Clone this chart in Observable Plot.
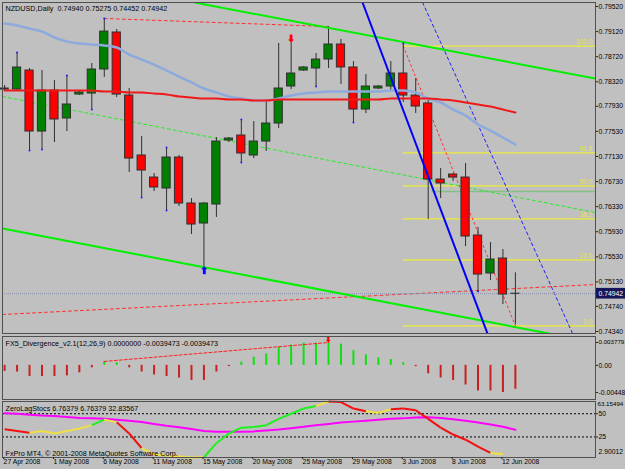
<!DOCTYPE html>
<html><head><meta charset="utf-8">
<script src="https://cdn.jsdelivr.net/npm/d3@7"></script>
<script src="https://cdn.jsdelivr.net/npm/@observablehq/plot@0.6"></script>
<style>
body{margin:0;background:#c0c0c0;}
#wrap{position:relative;width:625px;height:469px;background:#c0c0c0;overflow:hidden;font-family:"Liberation Sans",Arial,sans-serif;}
#wrap svg{position:absolute;left:0;overflow:visible;}
</style></head>
<body><div id="wrap"></div>
<script>
// ---------- DATA ----------
const symbolTitle = "NZDUSD,Daily  0.74940 0.75275 0.74452 0.74942";
const opens  = [0.78197,0.78197,0.78500,0.77527,0.78181,0.77735,0.78117,0.78133,0.78516,0.79106,0.78101,0.77145,0.76794,0.76619,0.77113,0.76380,0.76061,0.76364,0.77384,0.77464,0.77145,0.77368,0.77655,0.78245,0.78500,0.78532,0.78675,0.78914,0.78548,0.77878,0.78213,0.78245,0.78452,0.78101,0.77974,0.76762,0.76842,0.76794,0.75870,0.75264,0.75503,0.74940];
const highs  = [0.78261,0.78787,0.78532,0.78500,0.78340,0.78420,0.78165,0.78611,0.79329,0.79153,0.78213,0.77448,0.76858,0.77272,0.77145,0.76459,0.76396,0.77432,0.77432,0.77719,0.77687,0.78038,0.78930,0.78946,0.78564,0.78771,0.79201,0.78994,0.78643,0.78436,0.78261,0.78643,0.78930,0.78372,0.78022,0.76938,0.76858,0.77017,0.75997,0.75758,0.75647,0.75275];
const lows   = [0.78165,0.78181,0.77225,0.77241,0.77352,0.77527,0.78101,0.77878,0.78388,0.78069,0.76874,0.76475,0.76571,0.76268,0.76332,0.75886,0.75360,0.76157,0.77352,0.77033,0.77097,0.77209,0.77575,0.78197,0.78484,0.78245,0.78532,0.78277,0.77671,0.77814,0.78197,0.78165,0.77990,0.77814,0.76125,0.76459,0.76730,0.75694,0.74977,0.75152,0.74770,0.74452];
const closes = [0.78213,0.78548,0.77527,0.78181,0.77719,0.77958,0.78149,0.78516,0.79121,0.78117,0.77097,0.76906,0.76635,0.77113,0.76380,0.76045,0.76380,0.77368,0.77416,0.77177,0.77368,0.77655,0.78213,0.78452,0.78548,0.78675,0.78914,0.78548,0.77878,0.78245,0.78245,0.78452,0.78101,0.77926,0.76762,0.76699,0.76794,0.75854,0.75248,0.75487,0.74929,0.74942];
const maSlow = [0.79249,0.79217,0.79169,0.79121,0.79026,0.78962,0.78930,0.78914,0.78898,0.78866,0.78755,0.78675,0.78595,0.78500,0.78404,0.78309,0.78213,0.78149,0.78085,0.78054,0.78022,0.78022,0.78054,0.78101,0.78133,0.78149,0.78165,0.78165,0.78165,0.78165,0.78165,0.78181,0.78181,0.78149,0.78054,0.77990,0.77878,0.77782,0.77639,0.77543,0.77432,0.77320];
const maRed  = [0.78181,0.78181,0.78181,0.78181,0.78181,0.78181,0.78181,0.78181,0.78165,0.78165,0.78149,0.78149,0.78133,0.78117,0.78085,0.78069,0.78054,0.78054,0.78038,0.78038,0.78022,0.78022,0.78038,0.78038,0.78038,0.78038,0.78038,0.78038,0.78038,0.78038,0.78038,0.78054,0.78054,0.78054,0.78054,0.78038,0.78022,0.77990,0.77958,0.77926,0.77878,0.77830];
const priceTicks = [0.79520,0.79120,0.78720,0.78320,0.77930,0.77530,0.77130,0.76730,0.76330,0.75930,0.75530,0.75130,0.74740,0.74340];
const lastPrice = 0.74942;
// trend lines: [barIndex, price] anchor pairs
const greenUpper  = [[15.25,0.79584],[47.43,0.78372]];
const greenLower  = [[-0.17,0.75981],[47.43,0.74165]];
const greenMiddle = [[-0.17,0.78086],[47.43,0.76236]];
const blueSolid   = [[28.73,0.79584],[38.76,0.74308]];
const blueDashed  = [[33.55,0.79584],[45.59,0.74308]];
const redTop      = [[8,0.79329],[26,0.79201]];
const redLower    = [[-0.17,0.74611],[47.43,0.75089]];
const hLevelGreen = 0.76571, hLevelStart = 34.3;
const fibStartBar = 32, fibEndBar = 41;
const fibHigh = 0.78890, fibLow = 0.74430;
const fibLevels = [0, 23.6, 38.2, 50, 61.8, 100];
const fractals = [[1,0.78787],[2,0.77225],[3,0.77241],[5,0.78420],[7,0.77878],[8,0.79329],[11,0.76475],[13,0.77272],[13,0.76268],[19,0.77719],[19,0.77033],[25,0.78245],[28,0.77671],[32,0.78930],[38,0.74977]];
const arrowDown = [23, 0.79010];
const arrowUp   = [16, 0.75312];

const divTitle = "FX5_Divergence_v2.1(12,26,9) 0.0000000 -0.0039473 -0.0039473";
const divVals = [-0.00100,-0.00110,-0.00184,-0.00184,-0.00184,-0.00174,-0.00124,-0.00040,0.00065,0.00043,-0.00040,-0.00110,-0.00160,-0.00184,-0.00209,-0.00249,-0.00249,-0.00110,-0.00020,0.00054,0.00135,0.00189,0.00297,0.00335,0.00367,0.00367,0.003779,0.00351,0.00243,0.00173,0.00124,0.00097,0.00043,-0.00020,-0.00140,-0.00209,-0.00249,-0.00324,-0.00423,-0.00423,-0.00448,-0.00395];
const divLine = [[8,0.00065],[26,0.003779]];
const divMax = 0.003779, divMin = -0.00448;
const divDomain = [-0.00564, 0.00477];

const stochTitle = "ZeroLagStocs 6.76379 6.76379 32.83567";
const stochMain = [33.2,31.3,29.5,31.3,28.7,31.3,34.0,37.7,43.7,40.7,28.7,13.0,6.0,5.0,4.0,2.9,3.2,18.3,28.7,35.0,35.8,37.7,44.4,50.0,55.6,58.2,63.15,62.5,55.6,52.6,50.7,54.9,55.6,53.7,44.4,35.0,27.6,22.0,14.6,7.8,6.5,6.76];
// state of each segment i -> i+1 : u = rising (green), d = falling (red), f = flat (yellow)
const stochState = "ddfffffufddfffffuuuuuuuuufdddffddddddddf".split("");
const stochSignal = [50.5,50,49,48,47.5,46.5,45.5,45,44.5,43.5,42.5,41,39,37,35.5,33.5,31.5,30.5,30.5,30.5,31,32,33,34.5,36,37.5,39,40.5,41.5,42.5,43.5,44.5,45,46,46.3,45.5,44,42.5,40.5,38.5,36,32.84];
const stochMax = 63.15494, stochMin = 2.90012;
const stochLevels = [50, 25];
const footer = "FxPro MT4, © 2001-2008 MetaQuotes Software Corp.";
const dateTickBars = [0,4,8,12,16,20,24,28,32,36,40];
const dateLabels = ["27 Apr 2008","1 May 2008","6 May 2008","11 May 2008","15 May 2008","20 May 2008","25 May 2008","29 May 2008","3 Jun 2008","8 Jun 2008","12 Jun 2008"];

// ---------- CHART ----------
const FONT = "Liberation Sans, Arial, sans-serif";
const FS = 7.2;   // panel text
const AFS = 6.8;  // axis labels
const xDom = [-0.17, 47.43];
const common = {width:625, marginLeft:2, marginRight:30, style:{background:"transparent", fontFamily:FONT, fontSize:FS+"px", color:"#000", overflow:"visible"}};
const wrap = document.getElementById("wrap");
const place = (svg, top) => { svg.style.top = top + "px"; wrap.appendChild(svg); };

const candles = opens.map((o,i)=>({i, o, h:highs[i], l:lows[i], c:closes[i]}));
const lineData = (pts) => pts.map(([i,p])=>({i,p}));
const yellow = "#ecec3a";
const axisOpts = {anchor:"right", tickSize:2, tickPadding:1, fontSize:AFS, stroke:"#202020", label:null};

const main = Plot.plot({
  ...common, height:335, marginTop:2, marginBottom:2,
  x:{domain:xDom, axis:null, label:null},
  y:{domain:[0.74308,0.79584], axis:null, label:null},
  marks:[
    Plot.ruleY(fibLevels, {y:d=>fibLow+(fibHigh-fibLow)*d/100, x1:fibStartBar, x2:xDom[1], stroke:yellow, strokeWidth:1.2}),
    Plot.text(fibLevels, {y:d=>fibLow+(fibHigh-fibLow)*d/100, x:xDom[1], text:d=>d.toFixed(1), dx:-3, dy:-4, textAnchor:"end", fill:"#e6e63a", fontSize:6.6}),
    Plot.ruleY([hLevelGreen], {x1:hLevelStart, x2:xDom[1], stroke:"#70c070", strokeWidth:1.5, strokeOpacity:0.75}),
    Plot.line(lineData(greenMiddle), {x:"i", y:"p", stroke:"#22ee22", strokeWidth:1, strokeDasharray:"3,3", clip:true}),
    Plot.line(lineData(redLower), {x:"i", y:"p", stroke:"#ff3030", strokeWidth:1, strokeDasharray:"3,3", clip:true}),
    Plot.line(lineData(redTop), {x:"i", y:"p", stroke:"#ff3030", strokeWidth:1, strokeDasharray:"3,3", clip:true}),
    Plot.line(lineData([[fibStartBar,fibHigh],[fibEndBar,fibLow]]), {x:"i", y:"p", stroke:"#ff3030", strokeWidth:1, strokeDasharray:"2,3", clip:true}),
    Plot.line(lineData(blueDashed), {x:"i", y:"p", stroke:"#2020ff", strokeWidth:1, strokeDasharray:"3,3", clip:true}),
    Plot.ruleY([lastPrice], {stroke:"#8890b0", strokeWidth:1, strokeDasharray:"1,1"}),
    Plot.ruleX(candles, {x:"i", y1:"l", y2:"h", stroke:"#303030", strokeWidth:1}),
    Plot.rect(candles, {x1:d=>d.i-0.33, x2:d=>d.i+0.33, y1:"o", y2:"c", fill:d=>d.c>=d.o?"#008000":"#ff0000", stroke:"#303030", strokeWidth:1}),
    Plot.line(maSlow.map((p,i)=>({i,p})), {x:"i", y:"p", stroke:"#8eaadc", strokeWidth:2.5, curve:"monotone-x"}),
    Plot.line(maRed.map((p,i)=>({i,p})), {x:"i", y:"p", stroke:"#f01818", strokeWidth:2, curve:"monotone-x"}),
    Plot.line(lineData(greenUpper), {x:"i", y:"p", stroke:"#00f000", strokeWidth:2, clip:true}),
    Plot.line(lineData(greenLower), {x:"i", y:"p", stroke:"#00f000", strokeWidth:2, clip:true}),
    Plot.line(lineData(blueSolid), {x:"i", y:"p", stroke:"#0000ff", strokeWidth:2, clip:true}),
    Plot.dot(fractals, {x:d=>d[0], y:d=>d[1], r:1, fill:"#2020ff", stroke:null}),
    Plot.text([arrowDown], {x:d=>d[0], y:d=>d[1], text:()=>"⬇", fill:"#ff0000", fontSize:10, fontWeight:"bold"}),
    Plot.text([arrowUp], {x:d=>d[0], y:d=>d[1], text:()=>"⬆", fill:"#0000ff", fontSize:10, fontWeight:"bold"}),
    Plot.text([symbolTitle], {frameAnchor:"top-left", dx:3, dy:3, text:d=>d, fill:"#000", fontSize:FS}),
    Plot.frame({stroke:"#505050", strokeWidth:1}),
    Plot.axisY(priceTicks, {...axisOpts, tickFormat:d3.format(".5f")}),
    Plot.rect([lastPrice], {x1:xDom[1]+0.08, x2:xDom[1]+2.5, y1:d=>d-0.00085, y2:d=>d+0.00085, fill:"#15155a", clip:false}),
    Plot.text([lastPrice], {x:xDom[1], y:d=>d, text:d=>d.toFixed(5), dx:3, textAnchor:"start", fill:"#fff", fontSize:AFS})
  ]
});
place(main, 0);

const div = Plot.plot({
  ...common, height:67, marginTop:2, marginBottom:2,
  x:{domain:xDom, axis:null, label:null},
  y:{domain:divDomain, axis:null, label:null},
  marks:[
    Plot.ruleX(divVals.map((v,i)=>({i,v})), {x:"i", y1:0, y2:"v", stroke:d=>d.v>=0?"#10e010":"#c82020", strokeWidth:2}),
    Plot.line(lineData(divLine), {x:"i", y:"p", stroke:"#ff2020", strokeWidth:1, strokeDasharray:"3,2"}),
    Plot.text([[26, divMax]], {x:d=>d[0], y:d=>d[1], text:()=>"⬇", fill:"#ff0000", fontSize:8, dy:-3, fontWeight:"bold"}),
    Plot.text([divTitle], {frameAnchor:"top-left", dx:3, dy:4, text:d=>d, fill:"#000", fontSize:FS}),
    Plot.frame({stroke:"#505050", strokeWidth:1}),
    Plot.axisY([0, divMin], {...axisOpts, tickFormat:d=>d===0?"0.00":d.toFixed(5)}),
    Plot.axisY([divMax], {...axisOpts, fontSize:6.2, tickFormat:d=>d.toFixed(6)})
  ]
});
place(div, 334);

const stoch = Plot.plot({
  ...common, height:69, marginTop:1, marginBottom:12,
  x:{domain:xDom, axis:null, label:null},
  y:{domain:[stochMin, stochMax], axis:null, label:null},
  marks:[
    Plot.ruleY(stochLevels, {stroke:"#000", strokeWidth:1, strokeDasharray:"2,2"}),
    Plot.line(stochSignal.map((v,i)=>({i,v})), {x:"i", y:"v", stroke:"#ff00ff", strokeWidth:2}),
    Plot.link(stochState.map((s,i)=>({i, s, v1:stochMain[i], v2:stochMain[i+1]})), {x1:"i", x2:d=>d.i+1, y1:"v1", y2:"v2", stroke:d=>d.s==="u"?"#20f020":(d.s==="d"?"#f01010":"#f0e040"), strokeWidth:2}),
    Plot.text([stochTitle], {frameAnchor:"top-left", dx:3, dy:4, text:d=>d, fill:"#000", fontSize:FS}),
    Plot.text([footer], {frameAnchor:"bottom-left", dx:3, dy:-2, text:d=>d, fill:"#000", fontSize:FS}),
    Plot.frame({stroke:"#505050", strokeWidth:1}),
    Plot.axisY(stochLevels, {...axisOpts, tickFormat:d=>String(d)}),
    Plot.text([stochMax], {x:xDom[1], y:d=>d, text:d=>d.toFixed(5), dx:2, dy:3, textAnchor:"start", fill:"#000", fontSize:6.2}),
    Plot.text([stochMin], {x:xDom[1], y:d=>d, text:d=>d.toFixed(5), dx:3, dy:-6, textAnchor:"start", fill:"#000", fontSize:AFS}),
    Plot.axisX(dateTickBars, {anchor:"bottom", label:null, tickFormat:(d,k)=>dateLabels[k], tickSize:2, tickPadding:0, textAnchor:"start", dx:-1, fontSize:AFS, stroke:"#202020"})
  ]
});
place(stoch, 400);
</script>
</body></html>
